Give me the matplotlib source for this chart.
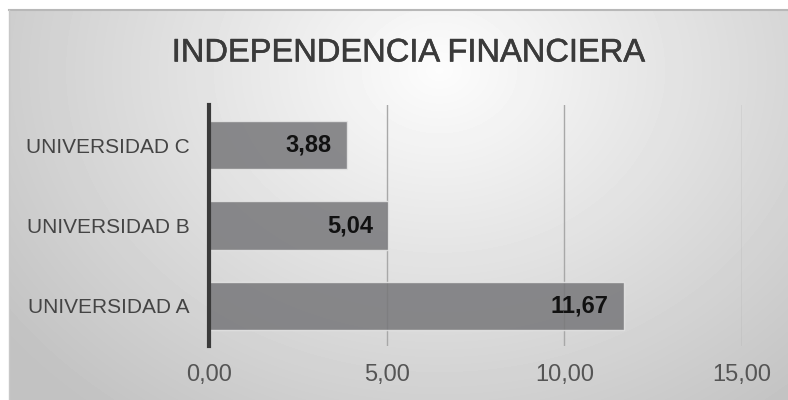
import matplotlib.pyplot as plt
import matplotlib.patheffects as pe
import numpy as np

plt.rcParams['font.family'] = ['Liberation Sans', 'DejaVu Sans']

universidades = ['UNIVERSIDAD A', 'UNIVERSIDAD B', 'UNIVERSIDAD C']
valores = [11.67, 5.04, 3.88]
ticks_x = [0, 5, 10, 15]
titulo = 'INDEPENDENCIA FINANCIERA'


def coma(v):
    return '{:.2f}'.format(v).replace('.', ',')


fig = plt.figure(figsize=(7.88, 4), dpi=100)
fig.patch.set_facecolor('white')

# fondo con degradado radial
bg = fig.add_axes([9 / 788, 0, 1 - 9 / 788, 390 / 400])
yy, xx = np.mgrid[0:390, 0:779]
d = np.sqrt(((xx - 430) / 520.0) ** 2 + ((yy - 60) / 420.0) ** 2)
shade = np.clip(0.99 - 0.22 * d, 0.76, 0.99)
bg.imshow(shade, cmap='gray', vmin=0, vmax=1, aspect='auto', interpolation='bilinear')
bg.set_axis_off()
fig.add_artist(plt.Line2D([9 / 788, 1], [390 / 400, 390 / 400], color='#b8b8b8', lw=1.5))
fig.add_artist(plt.Line2D([9 / 788, 9 / 788], [0, 390 / 400], color='#c8c8c8', lw=1))

ax = fig.add_axes([209 / 788, 54 / 400, (742 - 209) / 788, (346 - 105) / 400])
ax.patch.set_alpha(0)
pos = np.arange(len(universidades))
bars = ax.barh(pos, valores, height=0.6, color='#77777a', alpha=0.85,
               edgecolor='#e6e6e6', linewidth=1, zorder=3)
for b, v in zip(bars, valores):
    ax.text(b.get_width() - 0.42, b.get_y() + b.get_height() / 2, coma(v),
            ha='right', va='center', fontsize=17, fontweight='bold',
            color='#111111', zorder=4)

ax.set_xlim(0, 15)
ax.set_ylim(-0.5, 2.5)
ax.set_xticks(ticks_x)
ax.set_xticklabels([coma(t) for t in ticks_x], fontsize=17, color='#555555')
ax.set_yticks(pos)
ax.set_yticklabels(universidades, fontsize=15, color='#444444')
ax.tick_params(length=0, pad=14)
ax.tick_params(axis='x', pad=13)
ax.grid(axis='x', color='#a8a8a8', lw=1, zorder=1)
for s in ['top', 'right', 'bottom']:
    ax.spines[s].set_visible(False)
ax.spines['left'].set_color('#3a3a3a')
ax.spines['left'].set_linewidth(3)
ax.spines['left'].set_zorder(5)

fig.text(408 / 788, 1 - 53 / 400, titulo, ha='center', va='center',
         fontsize=23.5, color='#3a3a3a',
         path_effects=[pe.withStroke(linewidth=0.4, foreground='#3a3a3a')])

fig.savefig('out.png', dpi=100)
